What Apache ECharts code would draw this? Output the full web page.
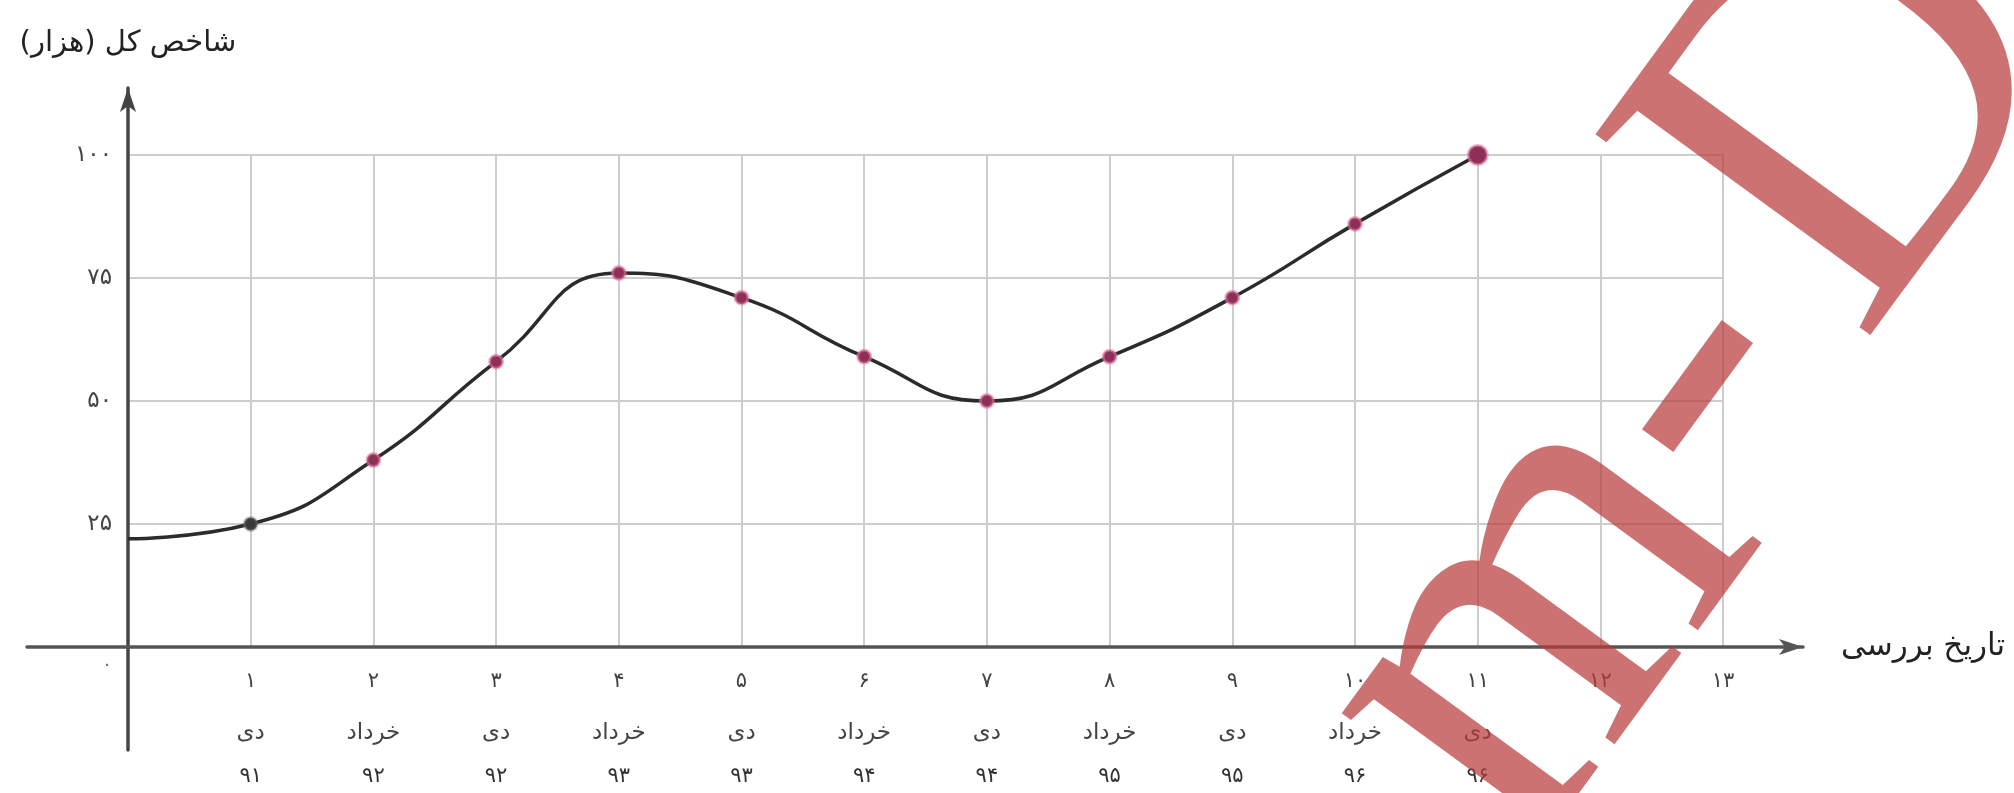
<!DOCTYPE html>
<html>
<head>
<meta charset="utf-8">
<script src="https://cdn.jsdelivr.net/npm/echarts@6/dist/echarts.min.js"></script>
<style>
  html, body { margin: 0; padding: 0; background: #fff; }
  #chart { width: 2014px; height: 793px; }
</style>
</head>
<body>
<div id="chart"></div>
<script>
// داده‌ها
var xTicks = ["۰", "۱", "۲", "۳", "۴", "۵", "۶", "۷", "۸", "۹", "۱۰", "۱۱", "۱۲", "۱۳"];
var months = ["", "دی", "خرداد", "دی", "خرداد", "دی", "خرداد", "دی", "خرداد", "دی", "خرداد", "دی", "", ""];
var years = ["", "۹۱", "۹۲", "۹۲", "۹۳", "۹۳", "۹۴", "۹۴", "۹۵", "۹۵", "۹۶", "۹۶", "", ""];
var xValues = [0, 1, 2, 3, 4, 5, 6, 7, 8, 9, 10, 11];
var indexValues = [22, 25, 38, 58, 76, 71, 59, 50, 59, 71, 86, 100];
var yTicks = [0, 25, 50, 75, 100];
var yTickLabels = ["۰", "۲۵", "۵۰", "۷۵", "۱۰۰"];

var FONT = "DejaVu Sans";

// layout (pixels)
var X0 = 128, UX = 122.7;      // x=0 position, px per unit
var Y0 = 647, UY = 4.92;       // y=0 position, px per unit
var AX_LEFT = 27, AX_RIGHT = 1803, AX_TOP = 88, AX_BOTTOM = 750;

var chart = echarts.init(document.getElementById("chart"));

var lineData = xValues.map(function(x, i) {
  var d = { value: [x, indexValues[i]] };
  if (i === 0) d.symbol = "none";
  if (i === 1) d.itemStyle = { color: "#3a3a3a", borderColor: "rgba(120,120,120,0.4)" };
  if (i === xValues.length - 1) d.symbolSize = 19;
  return d;
});

// واترمارک
var wmStyle = function(ch) {
  return {
    text: ch,
    font: "520px 'Liberation Serif'",
    fill: "rgba(185,60,60,0.72)",
    textAlign: "center",
    textVerticalAlign: "middle"
  };
};

var option = {
  backgroundColor: "#fff",
  animation: false,
  grid: [
    {
      left: X0,
      width: 13 * UX,
      top: Y0 - 100 * UY,
      height: 100 * UY
    },
    {
      left: AX_LEFT,
      width: AX_RIGHT - AX_LEFT,
      top: AX_TOP,
      height: AX_BOTTOM - AX_TOP
    }
  ],
  xAxis: [
    {
      type: "value",
      gridIndex: 0,
      min: 0,
      max: 13,
      interval: 1,
      axisLine: { show: false },
      axisTick: { show: false },
      splitLine: { lineStyle: { color: "#cdcdcd", width: 2 } },
      axisLabel: {
        showMinLabel: true,
        showMaxLabel: true,
        margin: 9,
        formatter: function(v) {
          var i = Math.round(v);
          if (i === 0) return "";
          var s = "{n|" + xTicks[i] + "}";
          if (months[i]) s += "\n{m|" + months[i] + "}\n{y|" + years[i] + "}";
          return s;
        },
        rich: {
          n: { fontFamily: FONT, fontSize: 21, color: "#444", lineHeight: 52 },
          m: { fontFamily: FONT, fontSize: 23, color: "#444", lineHeight: 50 },
          y: { fontFamily: FONT, fontSize: 21, color: "#333", lineHeight: 38 }
        }
      }
    },
    {
      type: "value",
      gridIndex: 1,
      min: (AX_LEFT - X0) / UX,
      max: (AX_RIGHT - X0) / UX,
      axisLine: {
        onZero: true,
        symbol: ["none", "arrow"],
        symbolSize: [12, 24],
        lineStyle: { color: "#555", width: 3.5 }
      },
      axisTick: { show: false },
      axisLabel: { show: false },
      splitLine: { show: false },
      name: "تاریخ بررسی",
      nameLocation: "end",
      nameGap: 38,
      nameTextStyle: { fontFamily: FONT, fontSize: 31, color: "#222" }
    }
  ],
  yAxis: [
    {
      type: "value",
      gridIndex: 0,
      min: 0,
      max: 100,
      interval: 25,
      axisLine: { show: false },
      axisTick: { show: false },
      splitLine: { lineStyle: { color: "#cdcdcd", width: 2 } },
      axisLabel: {
        margin: 16,
        formatter: function(v) {
          var i = yTicks.indexOf(v);
          if (v === 0) return "{z|" + yTickLabels[i] + "}";
          return yTickLabels[i];
        },
        fontFamily: FONT,
        fontSize: 23,
        color: "#444",
        rich: {
          z: { fontFamily: FONT, fontSize: 18, color: "#666", padding: [36, 0, 0, 0] }
        }
      }
    },
    {
      type: "value",
      gridIndex: 1,
      min: -(AX_BOTTOM - Y0) / UY,
      max: (Y0 - AX_TOP) / UY,
      axisLine: {
        onZero: true,
        symbol: ["none", "arrow"],
        symbolSize: [12, 24],
        lineStyle: { color: "#444", width: 3.5 }
      },
      axisTick: { show: false },
      axisLabel: { show: false },
      splitLine: { show: false },
      name: "شاخص کل (هزار)\u200F",
      nameLocation: "end",
      nameGap: 30,
      nameTextStyle: { fontFamily: FONT, fontSize: 29, color: "#222" }
    }
  ],
  series: [
    {
      type: "line",
      xAxisIndex: 0,
      yAxisIndex: 0,
      smooth: true,
      data: lineData,
      symbol: "circle",
      symbolSize: 13,
      lineStyle: { color: "#2b2b2b", width: 3.5 },
      itemStyle: {
        color: "#8e2f58",
        borderColor: "rgba(225,120,160,0.55)",
        borderWidth: 3
      },
      z: 5
    }
  ],
  graphic: [
    { type: "text", x: 1537, y: 619, rotation: 0.94, z: 100, style: wmStyle("m") },
    { type: "text", x: 1686, y: 378, rotation: 0.94, z: 100, style: wmStyle("-") },
    { type: "text", x: 1862, y: 115, rotation: 0.94, z: 100, style: wmStyle("D") }
  ]
};

chart.setOption(option);
window.addEventListener("resize", function() {
  chart.resize();
});
</script>
</body>
</html>
